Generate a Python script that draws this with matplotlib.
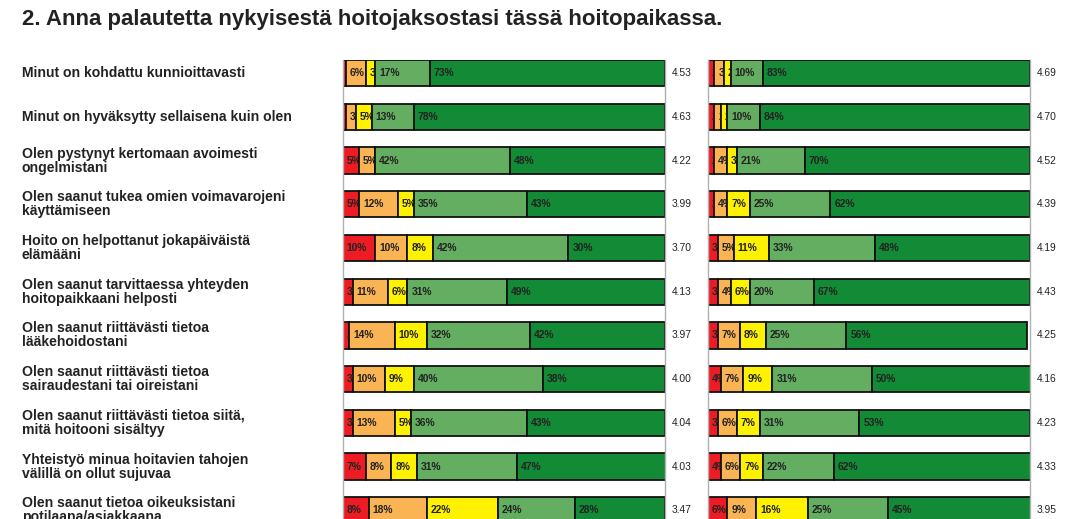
import numpy as np
import matplotlib
matplotlib.use("Agg")
import matplotlib.pyplot as plt
from matplotlib import transforms
from matplotlib import font_manager

# Kysymykset
kysymykset = [
    "Minut on kohdattu kunnioittavasti",
    "Minut on hyväksytty sellaisena kuin olen",
    "Olen pystynyt kertomaan avoimesti\nongelmistani",
    "Olen saanut tukea omien voimavarojeni\nkäyttämiseen",
    "Hoito on helpottanut jokapäiväistä\nelämääni",
    "Olen saanut tarvittaessa yhteyden\nhoitopaikkaani helposti",
    "Olen saanut riittävästi tietoa\nlääkehoidostani",
    "Olen saanut riittävästi tietoa\nsairaudestani tai oireistani",
    "Olen saanut riittävästi tietoa siitä,\nmitä hoitooni sisältyy",
    "Yhteistyö minua hoitavien tahojen\nvälillä on ollut sujuvaa",
    "Olen saanut tietoa oikeuksistani\npotilaana/asiakkaana",
]

# Vasen paneeli: osuudet (%) vastausvaihtoehdoittain 1..5
vasen_1 = [1, 1, 5, 5, 10, 3, 2, 3, 3, 7, 8]
vasen_2 = [6, 3, 5, 12, 10, 11, 14, 10, 13, 8, 18]
vasen_3 = [3, 5, 0, 5, 8, 6, 10, 9, 5, 8, 22]
vasen_4 = [17, 13, 42, 35, 42, 31, 32, 40, 36, 31, 24]
vasen_5 = [73, 78, 48, 43, 30, 49, 42, 38, 43, 47, 28]
vasen_ka = [4.53, 4.63, 4.22, 3.99, 3.70, 4.13, 3.97, 4.00, 4.04, 4.03, 3.47]

# Oikea paneeli
oikea_1 = [2, 2, 2, 2, 3, 3, 3, 4, 3, 4, 6]
oikea_2 = [3, 2, 4, 4, 5, 4, 7, 7, 6, 6, 9]
oikea_3 = [2, 2, 3, 7, 11, 6, 8, 9, 7, 7, 16]
oikea_4 = [10, 10, 21, 25, 33, 20, 25, 31, 31, 22, 25]
oikea_5 = [83, 84, 70, 62, 48, 67, 56, 50, 53, 62, 45]
oikea_ka = [4.69, 4.70, 4.52, 4.39, 4.19, 4.43, 4.25, 4.16, 4.23, 4.33, 3.95]

varit = ["#ED1C24", "#FBB454", "#FFF200", "#63AE60", "#138A36"]
teksti = "#222222"

# kapea fontti jos löytyy, muuten tavallinen pienempänä
nimet = {f.name for f in font_manager.fontManager.ttflist}
if "Liberation Sans Narrow" in nimet:
    kapea, koko = ["Liberation Sans Narrow", "DejaVu Sans"], 8.5
else:
    kapea, koko = ["Liberation Sans", "DejaVu Sans"], 7.4

plt.rcParams["font.family"] = ["Liberation Sans", "DejaVu Sans"]

fig = plt.figure(figsize=(10.78, 5.19), dpi=100)

fig.text(22 / 1078, 1 - 20 / 519,
         "2. Anna palautetta nykyisestä hoitojaksostasi tässä hoitopaikassa.",
         fontsize=16, fontweight="bold", color=teksti, va="center", ha="left")


def paneeli(vasen_px, osat, keskiarvot):
    ax = fig.add_axes([vasen_px / 1078, 0, 322 / 1078, 1 - 60 / 519])
    n = len(keskiarvot)
    y = np.arange(n)
    alku = np.zeros(n)
    for arvot, vari in zip(osat, varit):
        arvot = np.array(arvot, dtype=float)
        palkit = ax.barh(y, arvot, left=alku, height=0.6, color=vari,
                         edgecolor="#111111", linewidth=1.3)
        for pal, a, x0, yy in zip(palkit, arvot, alku, y):
            if a <= 0:
                continue
            t = ax.text(x0 + 1.2, yy, f"{int(a)}%", fontsize=koko, family=kapea,
                        fontweight="bold", color=teksti, va="center",
                        ha="left", clip_on=True)
            t.set_clip_path(pal)
        alku = alku + arvot
    for yy, ka in zip(y, keskiarvot):
        ax.text(1.02, yy, f"{ka:.2f}", transform=ax.get_yaxis_transform(),
                fontsize=koko, family=kapea, color=teksti, va="center", ha="left",
                clip_on=False)
    ax.set_xlim(0, 100)
    ax.set_ylim(10.2, -0.3)
    ax.set_xticks([])
    ax.set_yticks([])
    for s in ["top", "bottom"]:
        ax.spines[s].set_visible(False)
    for s in ["left", "right"]:
        ax.spines[s].set_color("#B0B0B0")
        ax.spines[s].set_linewidth(1.0)
    return ax


ax1 = paneeli(343, [vasen_1, vasen_2, vasen_3, vasen_4, vasen_5], vasen_ka)
ax2 = paneeli(708, [oikea_1, oikea_2, oikea_3, oikea_4, oikea_5], oikea_ka)

# Kysymystekstit vasemmalle
tr = transforms.blended_transform_factory(fig.transFigure, ax1.transData)
for i, k in enumerate(kysymykset):
    ax1.text(22 / 1078, i, k, transform=tr, fontsize=10.1, fontweight="bold",
             color=teksti, va="center", ha="left", linespacing=1.0,
             clip_on=False)

fig.savefig("out.png", dpi=100)
